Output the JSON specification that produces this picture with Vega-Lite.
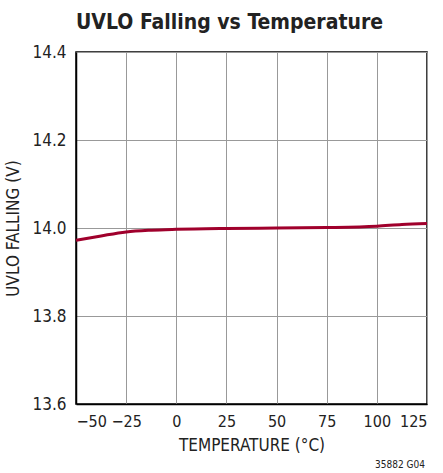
{
  "$schema": "https://vega.github.io/schema/vega-lite/v6.json",
  "width": 351,
  "height": 352,
  "autosize": {"type": "none"},
  "padding": {"left": 76, "top": 52, "right": 16, "bottom": 69},
  "background": "white",
  "config": {
    "font": "DejaVu Sans Condensed, Roboto, sans-serif",
    "view": {"stroke": "black", "strokeWidth": 1.5}
  },
  "title": {
    "text": "UVLO Falling vs Temperature",
    "anchor": "start",
    "frame": "group",
    "font": "DejaVu Sans Condensed, Roboto, sans-serif",
    "fontSize": 21,
    "fontWeight": "bold",
    "color": "#222222",
    "offset": 10,
    "dx": 0
  },
  "data": {
    "values": [
      {"t": -50, "v": 13.972},
      {"t": -37.5, "v": 13.982},
      {"t": -25, "v": 13.991},
      {"t": -12.5, "v": 13.995},
      {"t": 0, "v": 13.997},
      {"t": 25, "v": 13.999},
      {"t": 50, "v": 14.0},
      {"t": 75, "v": 14.001},
      {"t": 100, "v": 14.004},
      {"t": 112.5, "v": 14.008},
      {"t": 125, "v": 14.01}
    ]
  },
  "layer": [
    {
      "mark": {"type": "line", "color": "#a0002c", "strokeWidth": 3, "interpolate": "monotone"},
      "encoding": {
        "x": {
          "field": "t", "type": "quantitative",
          "scale": {"domain": [-50, 125], "nice": false, "zero": false},
          "axis": {
            "values": [-50, -25, 0, 25, 50, 75, 100, 125],
            "title": "TEMPERATURE (°C)",
            "titleFontSize": 17,
            "titleFontWeight": "normal",
            "titleColor": "#222222",
            "titlePadding": 8,
            "labelFontSize": 16,
            "labelColor": "#222222",
            "labelPadding": 9,
            "ticks": false,
            "domainColor": "black",
            "domainWidth": 1.5,
            "gridColor": "#999999",
            "gridWidth": 1,
            "gridOpacity": 1
          }
        },
        "y": {
          "field": "v", "type": "quantitative",
          "scale": {"domain": [13.6, 14.4], "nice": false, "zero": false},
          "axis": {
            "values": [13.6, 13.8, 14.0, 14.2, 14.4],
            "format": ".1f",
            "title": "UVLO FALLING (V)",
            "titleFontSize": 17,
            "titleFontWeight": "normal",
            "titleColor": "#222222",
            "titlePadding": 9,
            "labelFontSize": 17,
            "labelColor": "#222222",
            "labelPadding": 10,
            "ticks": false,
            "domainColor": "black",
            "domainWidth": 1.5,
            "gridColor": "#999999",
            "gridWidth": 1,
            "gridOpacity": 1
          }
        }
      }
    },
    {
      "data": {"values": [{"t": 125, "v": 13.6, "label": "35882 G04"}]},
      "mark": {"type": "text", "align": "right", "baseline": "bottom", "dy": 66, "dx": -2, "fontSize": 10, "color": "#222222"},
      "encoding": {
        "x": {"field": "t", "type": "quantitative"},
        "y": {"field": "v", "type": "quantitative"},
        "text": {"field": "label"}
      }
    }
  ]
}
